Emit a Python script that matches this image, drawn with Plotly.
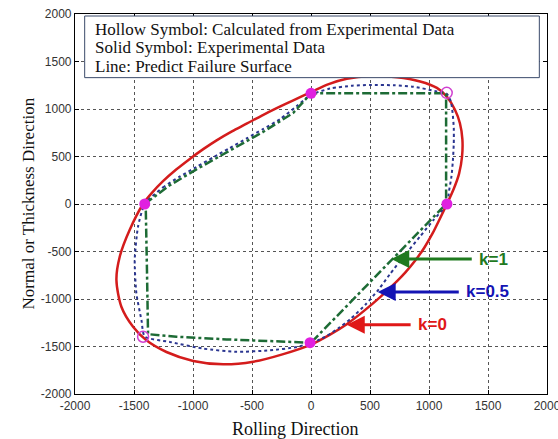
import plotly.graph_objects as go

# ---- data ----
red_x = [-1423, -1350, -1254, -1140, -1027, -910, -800, -670, -546, -420, -291, -150, 0, 150, 303, 501, 727, 925, 1067, 1148, 1219, 1262, 1283, 1280, 1255, 1210, 1152,
         1090, 1030, 960, 880, 800, 727, 586, 444, 303, 161, 0, -235, -489, -744, -998, -1225, -1395, -1508, -1607, -1649, -1621, -1537, -1423]
red_y = [0, 115, 240, 365, 475, 580, 670, 765, 845, 928, 1008, 1092, 1178, 1262, 1318, 1347, 1335, 1290, 1222, 1135, 995, 850, 680, 500, 320, 160, 0,
         -160, -310, -460, -600, -720, -815, -980, -1130, -1265, -1375, -1480, -1580, -1660, -1688, -1652, -1558, -1435, -1292, -1081, -800, -555, -274, 0]

blue_x = [-1409, -1254, -1110, -971, -830, -688, -546, -404, -260, -121, 0, 161, 350, 501, 700, 868, 1067, 1150, 1185, 1200, 1210, 1210, 1202, 1190, 1170, 1152,
          1037, 922, 800, 668, 576, 461, 334, 230, 138, 58, 0, -121, -348, -631, -914, -1197, -1409, -1437, -1480, -1494, -1466, -1409]
blue_y = [0, 175, 290, 390, 490, 590, 690, 790, 895, 1030, 1150, 1215, 1245, 1253, 1250, 1235, 1185, 1160, 1080, 960, 800, 639, 450, 287, 140, 0,
          -170, -345, -530, -740, -895, -1060, -1210, -1310, -1385, -1435, -1460, -1505, -1540, -1556, -1522, -1452, -1395, -1221, -940, -589, -239, 0]

green_x = [-1409, -1200, -971, -688, -404, -150, 0, 1145, 1145, 0, -291, -716, -1140, -1381, -1390, -1400, -1409]
green_y = [0, 195, 365, 560, 760, 960, 1165, 1165, 0, -1460, -1449, -1425, -1397, -1370, -700, -60, 0]

solid_x = [-1409, 0, 1152, -8]
solid_y = [0, 1165, 0, -1460]
hollow_x = [1150, -1423]
hollow_y = [1170, -1397]

tick_vals = [-2000, -1500, -1000, -500, 0, 500, 1000, 1500, 2000]
tick_text = ["-2000", "-1500", "-1000", "-500", "0", "500", "1000", "1500", "2000"]
legend_lines = ["Hollow Symbol: Calculated from Experimental Data",
                "Solid Symbol: Experimental Data",
                "Line: Predict Failure Surface"]
legend_line_y = [1842, 1647, 1447]
arrow_labels = ["k=1", "k=0.5", "k=0"]
arrow_colors = ["#1f7a1f", "#1414b4", "#e01818"]
arrow_head_x = [680, 565, 303]
arrow_tail_x = [1375, 1265, 857]
arrow_y = [-579, -926, -1270]

fig = go.Figure()
fig.add_trace(go.Scatter(x=red_x, y=red_y, mode="lines", line=dict(color="#d41c1c", width=2.5, shape="spline", smoothing=0.8), hoverinfo="skip"))
fig.add_trace(go.Scatter(x=blue_x, y=blue_y, mode="lines", line=dict(color="#2a3590", width=2, dash="dot", shape="spline", smoothing=0.6), hoverinfo="skip"))
fig.add_trace(go.Scatter(x=green_x, y=green_y, mode="lines", line=dict(color="#1d6b35", width=2.5, dash="dashdot"), hoverinfo="skip"))
fig.add_trace(go.Scatter(x=solid_x, y=solid_y, mode="markers", marker=dict(color="#e020e0", size=11), hoverinfo="skip"))
fig.add_trace(go.Scatter(x=hollow_x, y=hollow_y, mode="markers", marker=dict(color="rgba(0,0,0,0)", size=11, line=dict(color="#d040d0", width=1.5)), hoverinfo="skip"))

axis_common = dict(range=[-2000, 2000], tickvals=tick_vals, ticktext=tick_text, showgrid=True, gridcolor="#555555", griddash="dot", gridwidth=1,
                   zeroline=False, showline=True, linecolor="black", linewidth=1.2, mirror="ticks", ticks="inside", ticklen=4,
                   tickcolor="black", ticklabeloverflow="allow", automargin=False,
                   tickfont=dict(family="Liberation Sans, Arial", size=12, color="#333333"))
fig.update_xaxes(**axis_common)
fig.update_yaxes(**axis_common)

# legend box
fig.add_shape(type="rect", xref="x", yref="y", x0=-1918, x1=1935, y0=1330, y1=1979, line=dict(color="#3a4a6a", width=1), fillcolor="white")
for txt, yy in zip(legend_lines, legend_line_y):
    fig.add_annotation(x=-1850, y=yy, xref="x", yref="y", text=txt, showarrow=False, xanchor="left", yanchor="middle",
                       font=dict(family="Liberation Serif, Times New Roman", size=17, color="#111111"))

for lab, col, hx, tx, yy in zip(arrow_labels, arrow_colors, arrow_head_x, arrow_tail_x, arrow_y):
    fig.add_annotation(x=hx, y=yy, ax=tx, ay=yy, xref="x", yref="y", axref="x", ayref="y", text="", showarrow=True,
                       arrowhead=2, arrowsize=1.2, arrowwidth=3, arrowcolor=col)
    fig.add_annotation(x=tx, y=yy, xref="x", yref="y", text="<b>" + lab + "</b>", showarrow=False, xanchor="left", yanchor="middle",
                       xshift=4, font=dict(family="Liberation Sans, Arial", size=17, color=col))

fig.add_annotation(x=0.466, y=-0.092, xref="paper", yref="paper", text="Rolling Direction", showarrow=False, yanchor="middle",
                   font=dict(family="Liberation Serif, Times New Roman", size=18, color="#111111"))
fig.add_annotation(x=-0.125, y=0.5, xref="paper", yref="paper", text="Normal or Thickness Direction", showarrow=False, textangle=-90,
                   font=dict(family="Liberation Serif, Times New Roman", size=17, color="#111111"))

fig.update_layout(width=558, height=439, margin=dict(l=75, r=11, t=14, b=45, autoexpand=False), plot_bgcolor="white", paper_bgcolor="white",
                  showlegend=False)
fig.write_html("out.html")
